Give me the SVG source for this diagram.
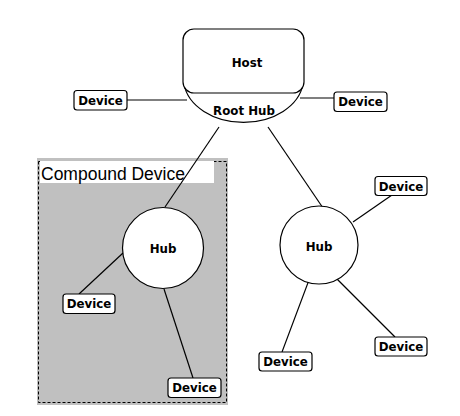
<svg xmlns="http://www.w3.org/2000/svg" width="460" height="416" viewBox="0 0 460 416">
<style>
.n{fill:#fff;stroke:#000;stroke-width:1.2}
.t{font-family:"DejaVu Sans",sans-serif;font-weight:bold;font-size:11.8px;text-anchor:middle;fill:#000}
.c{stroke:#000;stroke-width:1.2;fill:none}
</style>
<rect width="460" height="416" fill="#fff"/>
<g id="compound">
<rect x="37" y="158" width="191" height="247" fill="#c0c0c0"/>
<rect x="38.5" y="161.5" width="188" height="241" fill="none" stroke="#000" stroke-width="1" stroke-dasharray="3,2"/>
<rect x="40" y="161" width="174" height="22" fill="#fff"/>
<text x="41" y="180" font-family="Liberation Sans, Arial, sans-serif" font-size="17.5px" fill="#000">Compound Device</text>
</g>
<g id="connectors">
<line class="c" x1="127" y1="100" x2="187" y2="100"/>
<line class="c" x1="300" y1="98" x2="334" y2="98"/>
<line class="c" x1="219" y1="127" x2="165" y2="207"/>
<line class="c" x1="268" y1="127" x2="323" y2="208"/>
<line class="c" x1="123" y1="253" x2="79" y2="294"/>
<line class="c" x1="164" y1="289" x2="193" y2="378"/>
<line class="c" x1="353" y1="222" x2="392" y2="195"/>
<line class="c" x1="337" y1="279" x2="395" y2="337"/>
<line class="c" x1="309" y1="280" x2="282" y2="352"/>
</g>
<g id="roothub">
<path class="n" d="M184,84 A60,44 0 0 0 303,84 Z"/>
<text class="t" x="244" y="115">Root Hub</text>
</g>
<g id="host">
<rect class="n" x="183" y="29" width="121" height="64" rx="11"/>
<text class="t" x="247" y="67">Host</text>
</g>
<g id="hub1">
<circle class="n" cx="163" cy="248" r="40.5"/>
<text class="t" x="163" y="253">Hub</text>
</g>
<g id="hub2">
<circle class="n" cx="319" cy="245" r="39"/>
<text class="t" x="319" y="251">Hub</text>
</g>
<g id="dev1"><rect class="n" x="74" y="90.5" width="53" height="19.5" rx="3"/><text class="t" x="100.5" y="104.5">Device</text></g>
<g id="dev2"><rect class="n" x="334" y="92" width="53" height="19.5" rx="3"/><text class="t" x="360.5" y="106">Device</text></g>
<g id="dev3"><rect class="n" x="375" y="176.5" width="52" height="19" rx="3"/><text class="t" x="401" y="190.5">Device</text></g>
<g id="dev4"><rect class="n" x="375" y="337" width="52" height="19" rx="3"/><text class="t" x="401" y="351">Device</text></g>
<g id="dev5"><rect class="n" x="259" y="352" width="53" height="19" rx="3"/><text class="t" x="285.5" y="366">Device</text></g>
<g id="dev6"><rect class="n" x="63" y="294" width="52" height="19.5" rx="3"/><text class="t" x="89" y="308">Device</text></g>
<g id="dev7"><rect class="n" x="168" y="378" width="53" height="19.5" rx="3"/><text class="t" x="194.5" y="392">Device</text></g>
</svg>
